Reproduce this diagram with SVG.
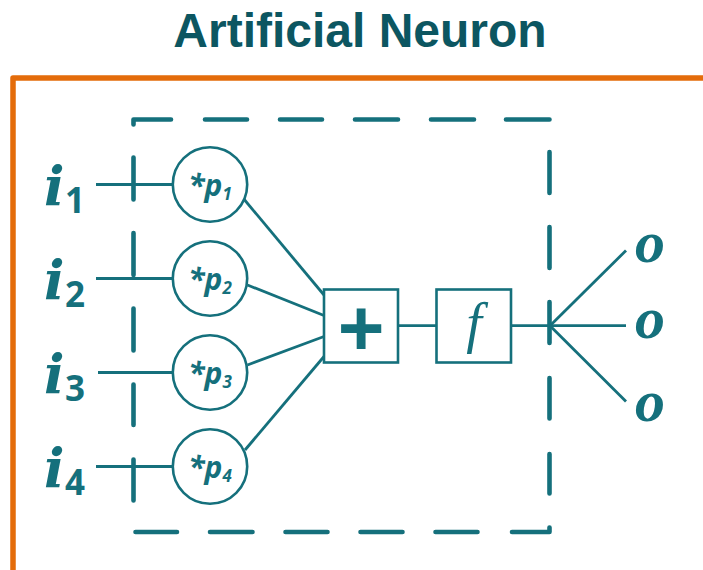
<svg xmlns="http://www.w3.org/2000/svg" width="703" height="570" viewBox="0 0 703 570">
  <style>
    .wire { stroke: #15707C; stroke-width: 2.8; fill: none; }
    .dash { stroke: #15707C; stroke-width: 4.6; fill: none; stroke-linecap: round; stroke-linejoin: round; }
    .node { stroke: #15707C; stroke-width: 2.6; fill: #FFFFFF; }
    .title { font-family: "Liberation Sans", Arial, sans-serif; font-weight: bold; font-size: 48px; fill: #0C5661; }
    .var { font-family: "DejaVu Serif", "Liberation Serif", serif; font-style: italic; font-weight: bold; fill: #15707C; }
    .out { font-family: "Liberation Serif", "DejaVu Serif", serif; font-style: italic; font-weight: bold; fill: #15707C; }
    .idx { font-family: "Open Sans", "Liberation Sans", sans-serif; font-weight: bold; fill: #15707C; }
    .w { font-family: "Open Sans", "Liberation Sans", sans-serif; font-weight: bold; font-style: italic; fill: #15707C; }
  </style>

  <!-- heading -->
  <g id="title">
    <text class="title" x="360" y="47" text-anchor="middle">Artificial Neuron</text>
  </g>

  <!-- orange frame, open at the right and bottom -->
  <g id="frame">
    <path d="M13,572 V78 H705" stroke="#E46C0A" stroke-width="5.5" fill="none" stroke-linejoin="round"/>
  </g>

  <!-- dashed neuron boundary -->
  <g id="boundary">
    <path class="dash" d="
      M133.5,124.5 V119.5 H171
      M205,119.5 H247 M280,119.5 H322 M355,119.5 H398 M431,119.5 H474 M506,119.5 H549.5
      M549.5,152 V193 M549.5,227 V268 M549.5,302 V343 M549.5,378 V418.5 M549.5,454 V493.5
      M549.5,527.5 V532 H512
      M477.5,532 H435.5 M402.5,532 H360.5 M327.5,532 H285.5 M252.5,532 H210 M177,532 H135.5
      M133.5,500.5 V459.5 M133.5,425 V384.5 M133.5,350.5 V308.5 M133.5,275 V233 M133.5,199.5 V157.5"/>
  </g>

  <!-- connectors -->
  <g id="connectors">
    <path class="wire" d="M96,184.5 H172.5"/>
    <path class="wire" d="M96,278.5 H172.5"/>
    <path class="wire" d="M98,372.5 H172.5"/>
    <path class="wire" d="M96,466.5 H172.5"/>
    <path class="wire" d="M243,198 L324,295"/>
    <path class="wire" d="M247.5,285 L324,315.5"/>
    <path class="wire" d="M247.5,365 L324,336.5"/>
    <path class="wire" d="M245,450 L324,356.5"/>
    <path class="wire" d="M398,325.7 H436.5"/>
    <path class="wire" d="M511,325.7 H550"/>
    <path class="wire" d="M550,325.7 L626,250.5"/>
    <path class="wire" d="M550,325.7 H626"/>
    <path class="wire" d="M550,325.7 L626,401.5"/>
  </g>

  <!-- inputs -->
  <g id="input-1">
    <text class="var" x="44" y="204.5" font-size="54">i</text>
    <text class="idx" x="65" y="213" font-size="35">1</text>
  </g>
  <g id="input-2">
    <text class="var" x="44" y="298.5" font-size="54">i</text>
    <text class="idx" x="65" y="307" font-size="35">2</text>
  </g>
  <g id="input-3">
    <text class="var" x="44" y="392.5" font-size="54">i</text>
    <text class="idx" x="65" y="401" font-size="35">3</text>
  </g>
  <g id="input-4">
    <text class="var" x="44" y="486.5" font-size="54">i</text>
    <text class="idx" x="65" y="495" font-size="35">4</text>
  </g>

  <!-- weights -->
  <g id="weight-1">
    <circle class="node" cx="210" cy="184.5" r="37.2"/>
    <text class="w" x="210" y="196" text-anchor="middle" font-size="30">*p<tspan font-size="17" dy="4">1</tspan></text>
  </g>
  <g id="weight-2">
    <circle class="node" cx="210" cy="278.5" r="37.2"/>
    <text class="w" x="210" y="290" text-anchor="middle" font-size="30">*p<tspan font-size="17" dy="4">2</tspan></text>
  </g>
  <g id="weight-3">
    <circle class="node" cx="210" cy="372.5" r="37.2"/>
    <text class="w" x="210" y="384" text-anchor="middle" font-size="30">*p<tspan font-size="17" dy="4">3</tspan></text>
  </g>
  <g id="weight-4">
    <circle class="node" cx="210" cy="466.5" r="37.2"/>
    <text class="w" x="210" y="478" text-anchor="middle" font-size="30">*p<tspan font-size="17" dy="4">4</tspan></text>
  </g>

  <!-- summation -->
  <g id="sum">
    <rect class="node" x="324" y="289.5" width="74" height="73"/>
    <text x="361" y="355" text-anchor="middle" font-family="Liberation Sans, Arial, sans-serif" font-weight="bold" font-size="80" fill="#15707C">+</text>
  </g>

  <!-- activation -->
  <g id="activation">
    <rect class="node" x="436.5" y="289.5" width="74.5" height="73"/>
    <text x="474" y="342" text-anchor="middle" font-family="Liberation Serif, serif" font-style="italic" font-size="56" fill="#15707C">f</text>
  </g>

  <!-- outputs -->
  <g id="output-1">
    <text class="out" x="635" y="261.5" font-size="60">o</text>
  </g>
  <g id="output-2">
    <text class="out" x="635" y="337.5" font-size="60">o</text>
  </g>
  <g id="output-3">
    <text class="out" x="635" y="420.5" font-size="60">o</text>
  </g>
</svg>
